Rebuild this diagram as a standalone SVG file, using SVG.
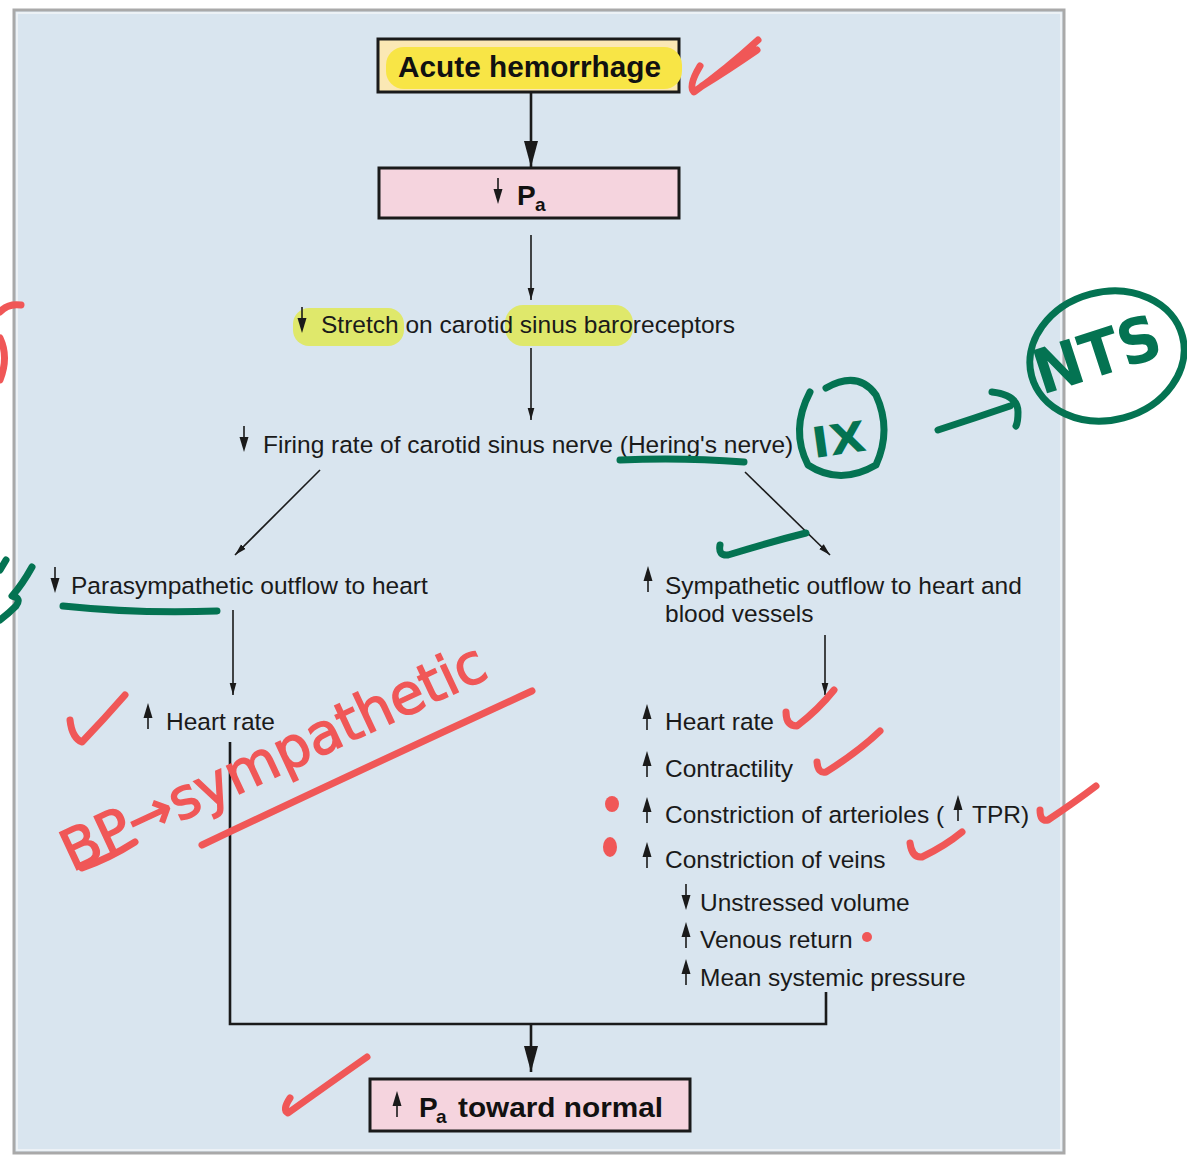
<svg xmlns="http://www.w3.org/2000/svg" width="1187" height="1157" viewBox="0 0 1187 1157">
<defs>
<style>
.t{font-family:"Liberation Sans",Arial,sans-serif;font-size:24.5px;fill:#1a1a1a}
.b{font-family:"Liberation Sans",Arial,sans-serif;font-weight:bold;fill:#111}
.box{stroke:#1a1a1a;stroke-width:3}
.thin{stroke:#1a1a1a;stroke-width:1.6;fill:none}
.thick{stroke:#1a1a1a;stroke-width:2.6;fill:none}
.red{stroke:#f05757;stroke-width:7;fill:none;stroke-linecap:round;stroke-linejoin:round}
.grn{stroke:#047352;stroke-width:7;fill:none;stroke-linecap:round;stroke-linejoin:round}
.hw{font-family:"DejaVu Sans",sans-serif;font-weight:bold}
</style>
<marker id="ah" markerUnits="userSpaceOnUse" markerWidth="12" markerHeight="20" refX="18" refY="5" orient="auto" viewBox="0 0 18 10">
<path d="M0,0 L18,5 L0,10 z" fill="#1a1a1a"/>
</marker>
<marker id="ahT" markerUnits="userSpaceOnUse" markerWidth="26" markerHeight="14" refX="26" refY="7" orient="auto" viewBox="0 0 26 14">
<path d="M0,0 L26,7 L0,14 z" fill="#1a1a1a"/>
</marker>
<g id="dn"><line x1="0" y1="0" x2="0" y2="14" stroke="#1a1a1a" stroke-width="1.6"/><path d="M-4.5,11 L4.5,11 L0,26 z" fill="#1a1a1a"/></g>
<g id="up"><line x1="0" y1="12" x2="0" y2="26" stroke="#1a1a1a" stroke-width="1.6"/><path d="M-4.5,15 L4.5,15 L0,0 z" fill="#1a1a1a"/></g>
</defs>
<rect width="1187" height="1157" fill="#ffffff"/>
<rect x="14" y="10" width="1050" height="1143" fill="#d9e5ef" stroke="#a9a9a9" stroke-width="3"/>
<rect x="17" y="13" width="1044" height="1137" fill="none" stroke="#f2f5f8" stroke-width="1.5"/>

<g id="connectors">
<line class="thick" x1="531" y1="92" x2="531" y2="167" marker-end="url(#ahT)"/>
<line class="thin" x1="531" y1="235" x2="531" y2="300" marker-end="url(#ah)"/>
<line class="thin" x1="531" y1="348" x2="531" y2="420" marker-end="url(#ah)"/>
<line class="thin" x1="320" y1="470" x2="235" y2="555" marker-end="url(#ah)"/>
<line class="thin" x1="745" y1="472" x2="830" y2="555" marker-end="url(#ah)"/>
<line class="thin" x1="233" y1="610" x2="233" y2="695" marker-end="url(#ah)"/>
<line class="thin" x1="825" y1="635" x2="825" y2="695" marker-end="url(#ah)"/>
<polyline class="thick" points="230,742 230,1024 826,1024 826,992"/>
<line class="thick" x1="531" y1="1024" x2="531" y2="1072" marker-end="url(#ahT)"/>
</g>

<g id="n-hemorrhage">
<rect class="box" x="378" y="39" width="301" height="53" fill="#fbe8b4"/>
<rect x="386" y="47" width="296" height="42" rx="18" fill="#f8e546"/>
<text class="b" x="398" y="77" font-size="29" textLength="263" lengthAdjust="spacingAndGlyphs">Acute hemorrhage</text>
</g>

<g id="n-pa">
<rect class="box" x="379" y="168" width="300" height="50" fill="#f5d4de"/>
<use href="#dn" x="498" y="178"/>
<text class="b" x="517" y="205" font-size="28">P</text>
<text class="b" x="535" y="211" font-size="19">a</text>
</g>

<g id="n-stretch">
<rect x="293" y="308" width="111" height="38" rx="16" fill="#dfe86b"/>
<rect x="505" y="305" width="128" height="41" rx="18" fill="#dfe86b"/>
<use href="#dn" x="302" y="307"/>
<text class="t" x="321" y="333">Stretch on carotid sinus baroreceptors</text>
</g>

<g id="n-firing">
<use href="#dn" x="244" y="426"/>
<text class="t" x="263" y="453">Firing rate of carotid sinus nerve (Hering's nerve)</text>
</g>

<g id="n-parasym">
<use href="#dn" x="55" y="567"/>
<text class="t" x="71" y="594">Parasympathetic outflow to heart</text>
</g>

<g id="n-hr-left">
<use href="#up" x="148" y="703"/>
<text class="t" x="166" y="730">Heart rate</text>
</g>

<g id="n-sym">
<use href="#up" x="648" y="566"/>
<text class="t" x="665" y="594">Sympathetic outflow to heart and</text>
<text class="t" x="665" y="622">blood vessels</text>
</g>

<g id="n-effects">
<use href="#up" x="647" y="704"/>
<text class="t" x="665" y="730">Heart rate</text>
<use href="#up" x="647" y="751"/>
<text class="t" x="665" y="777">Contractility</text>
<use href="#up" x="647" y="797"/>
<text class="t" x="665" y="823">Constriction of arterioles (</text>
<use href="#up" x="958" y="795"/>
<text class="t" x="972" y="823">TPR)</text>
<use href="#up" x="647" y="842"/>
<text class="t" x="665" y="868">Constriction of veins</text>
<use href="#dn" x="686" y="884"/>
<text class="t" x="700" y="911">Unstressed volume</text>
<use href="#up" x="686" y="922"/>
<text class="t" x="700" y="948">Venous return</text>
<use href="#up" x="686" y="959"/>
<text class="t" x="700" y="986">Mean systemic pressure</text>
</g>

<g id="n-normal">
<rect class="box" x="370" y="1079" width="320" height="52" fill="#f5d4de"/>
<use href="#up" x="397" y="1091"/>
<text class="b" x="419" y="1117" font-size="28">P</text>
<text class="b" x="436" y="1123" font-size="19">a</text>
<text class="b" x="458" y="1117" font-size="28" textLength="205" lengthAdjust="spacingAndGlyphs">toward normal</text>
</g>

<g id="annotations">
<path class="red" d="M700,66 Q688,86 694,92 Q725,70 758,40 M757,50 Q728,70 702,86"/>
<path class="red" d="M21,305 Q8,303 0,312 M0,338 Q9,357 0,380"/>
<path class="grn" d="M6,560 L0,570 M32,567 Q22,585 12,596 Q22,598 16,606 Q8,614 0,620"/>
<path class="grn" d="M620,460 Q680,457 744,462"/>
<path class="grn" d="M63,606 Q140,614 217,611"/>
<path class="grn" d="M720,545 Q718,556 728,555 Q770,542 806,533"/>
<path class="grn" d="M810,392 Q790,430 808,465 Q840,486 876,465 Q892,430 876,395 Q858,370 826,388"/>
<text class="hw" x="814" y="458" font-size="42" fill="#047352" textLength="54" lengthAdjust="spacingAndGlyphs" transform="rotate(-8 814 458)">IX</text>
<path class="grn" d="M938,430 Q975,418 1010,406 M992,392 Q1018,395 1018,412 Q1018,422 1016,426"/>
<ellipse cx="1107" cy="356" rx="78" ry="64" transform="rotate(-15 1107 356)" fill="none" stroke="#047352" stroke-width="7"/>
<text class="hw" x="1042" y="395" font-size="62" fill="#047352" textLength="130" lengthAdjust="spacingAndGlyphs" transform="rotate(-18 1042 395)">NTS</text>
<path class="red" d="M70,720 Q72,738 82,742 Q105,718 125,695"/>
<text x="72" y="872" font-family="DejaVu Sans,sans-serif" font-size="56" fill="#f05757" stroke="#f05757" stroke-width="1.5" textLength="462" lengthAdjust="spacingAndGlyphs" transform="rotate(-25 72 872)">BP→sympathetic</text>
<path class="red" d="M82,868 Q110,858 135,842"/>
<path class="red" d="M202,845 Q360,770 532,691"/>
<path class="red" d="M786,712 Q786,726 797,726 Q818,710 834,690"/>
<path class="red" d="M817,762 Q818,774 826,772 Q858,752 880,731"/>
<path class="red" d="M1040,810 Q1040,822 1048,820 Q1075,802 1096,786"/>
<path class="red" d="M910,843 Q912,858 922,857 Q945,846 962,832"/>
<ellipse cx="612" cy="804" rx="7" ry="8" fill="#f05757"/>
<ellipse cx="610" cy="847" rx="7" ry="10" fill="#f05757"/>
<circle cx="867" cy="937" r="5" fill="#f05757"/>
<path class="red" d="M290,1098 Q282,1110 288,1113 Q330,1083 367,1057"/>
</g>
</svg>
